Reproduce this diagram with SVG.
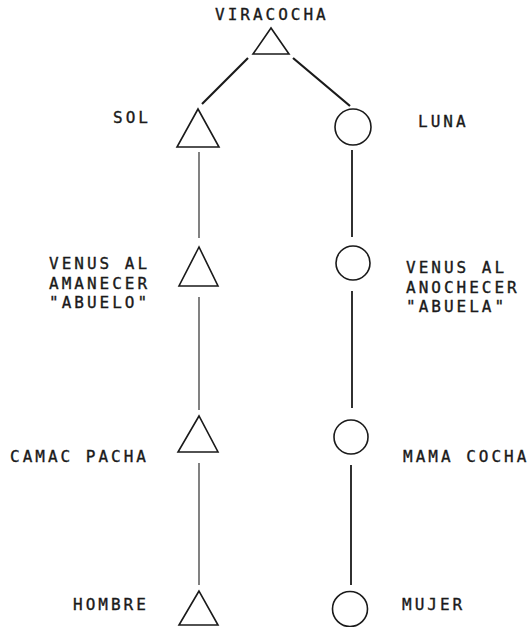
<svg xmlns="http://www.w3.org/2000/svg" width="529" height="627" viewBox="0 0 529 627">
  <style>
    .bg { fill: #ffffff; }
    .shape { fill: none; stroke: #1a1a1a; stroke-width: 1.6; stroke-linejoin: miter; }
    .link { stroke: #1a1a1a; fill: none; stroke-linecap: butt; }
    .thin { stroke-width: 1.1; }
    .thick { stroke-width: 1.8; }
    .diag { stroke-width: 2.2; }
    .label { font-family: "DejaVu Sans Mono", "Liberation Mono", monospace; font-size: 16px; letter-spacing: 3px; fill: #1a1a1a; stroke: #1a1a1a; stroke-width: 0.35; }
  </style>
  <rect class="bg" x="0" y="0" width="529" height="627"/>

  <!-- connectors -->
  <g id="connectors">
    <line class="link diag" x1="248" y1="58" x2="202" y2="104"/>
    <line class="link diag" x1="293" y1="58" x2="350" y2="106"/>
    <line class="link thin" x1="199" y1="152" x2="199" y2="238"/>
    <line class="link thin" x1="199" y1="297" x2="199" y2="410"/>
    <line class="link thin" x1="199" y1="463" x2="199" y2="585"/>
    <line class="link thick" x1="352" y1="150" x2="352" y2="237"/>
    <line class="link thick" x1="352" y1="291" x2="352" y2="408"/>
    <line class="link thick" x1="351" y1="465" x2="351" y2="585"/>
  </g>

  <g id="viracocha">
    <polygon class="shape" points="271,28 253,54 289,54"/>
    <text class="label" x="215" y="20">VIRACOCHA</text>
  </g>

  <g id="sol">
    <polygon class="shape" points="198,109 177,147 219,147"/>
    <text class="label" x="113" y="123">SOL</text>
  </g>

  <g id="luna">
    <circle class="shape" cx="353" cy="127" r="18"/>
    <text class="label" x="418" y="127">LUNA</text>
  </g>

  <g id="venus-amanecer">
    <polygon class="shape" points="199,247 179,286 218,286"/>
    <text class="label" x="49" y="269">VENUS AL</text>
    <text class="label" x="49" y="289">AMANECER</text>
    <text class="label" x="49" y="308">"ABUELO"</text>
  </g>

  <g id="venus-anochecer">
    <circle class="shape" cx="353" cy="263" r="17"/>
    <text class="label" x="406" y="273">VENUS AL</text>
    <text class="label" x="406" y="293">ANOCHECER</text>
    <text class="label" x="406" y="312">"ABUELA"</text>
  </g>

  <g id="camac-pacha">
    <polygon class="shape" points="199,416 178,452 218,452"/>
    <text class="label" x="10" y="462">CAMAC PACHA</text>
  </g>

  <g id="mama-cocha">
    <circle class="shape" cx="351" cy="437" r="17"/>
    <text class="label" x="403" y="462">MAMA COCHA</text>
  </g>

  <g id="hombre">
    <polygon class="shape" points="199,591 179,625 218,625"/>
    <text class="label" x="73" y="610">HOMBRE</text>
  </g>

  <g id="mujer">
    <circle class="shape" cx="350" cy="609" r="17.5"/>
    <text class="label" x="402" y="610">MUJER</text>
  </g>
</svg>
